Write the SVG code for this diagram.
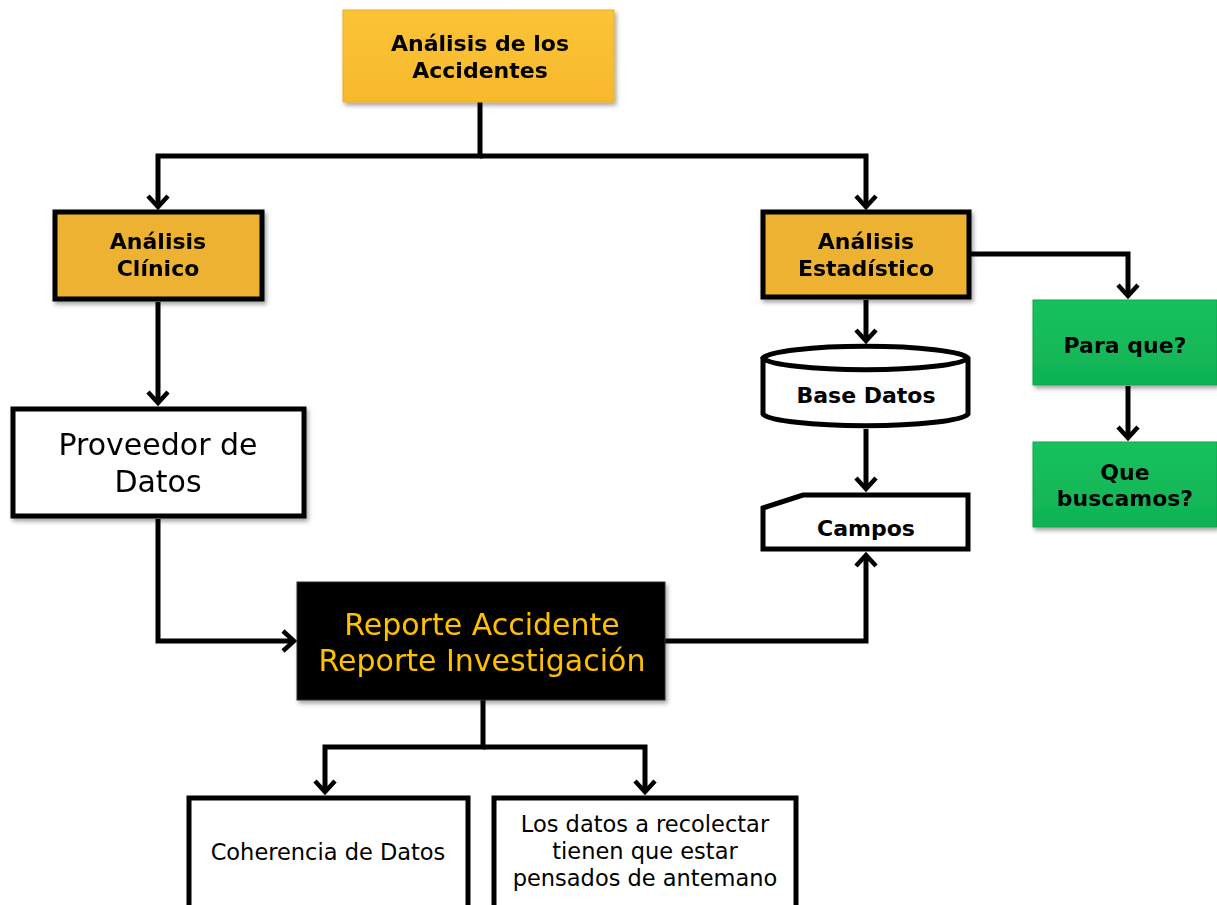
<svg xmlns="http://www.w3.org/2000/svg" width="1217" height="905" viewBox="0 0 1217 905">
<style>
.b{font-family:"DejaVu Sans","Liberation Sans",sans-serif;font-weight:bold;font-size:22px;fill:#000;text-anchor:middle}
.n{font-family:"DejaVu Sans","Liberation Sans",sans-serif;font-size:22.5px;fill:#000;text-anchor:middle}
.L{font-size:30px}
.c{fill:none;stroke:#000;stroke-width:5;stroke-linejoin:miter}
.box{stroke:#000;stroke-width:5}
</style>
<defs>
<linearGradient id="gy" x1="0" y1="0" x2="0" y2="1"><stop offset="0" stop-color="#FCC437"/><stop offset="1" stop-color="#F7B82C"/></linearGradient>
<linearGradient id="gg" x1="0" y1="0" x2="0" y2="1"><stop offset="0" stop-color="#17C15E"/><stop offset="1" stop-color="#10B254"/></linearGradient>
<filter id="sh" x="-10%" y="-10%" width="130%" height="130%"><feDropShadow dx="2" dy="3" stdDeviation="2" flood-color="#000" flood-opacity="0.35"/></filter>
<marker id="ah" viewBox="0 0 24 24" refX="20" refY="12" markerWidth="24" markerHeight="24" markerUnits="userSpaceOnUse" orient="auto" overflow="visible">
<path d="M9,2 L20,12 L9,22" fill="none" stroke="#000" stroke-width="4.5" stroke-linejoin="miter"/>
</marker>
</defs>
<g id="connectors">
<path class="c" d="M480,102 V156 H158 V207" marker-end="url(#ah)"/>
<path class="c" d="M480,156 H866 V207" marker-end="url(#ah)"/>
<path class="c" d="M970,254 H1128 V296" marker-end="url(#ah)"/>
<path class="c" d="M1128,386 V438" marker-end="url(#ah)"/>
<path class="c" d="M866,300 V341" marker-end="url(#ah)"/>
<path class="c" d="M866,429 V489" marker-end="url(#ah)"/>
<path class="c" d="M158,302 V403" marker-end="url(#ah)"/>
<path class="c" d="M158,519 V641 H294" marker-end="url(#ah)"/>
<path class="c" d="M665,641 H866 V555" marker-end="url(#ah)"/>
<path class="c" d="M483,700 V747 H325 V792" marker-end="url(#ah)"/>
<path class="c" d="M483,747 H645 V792" marker-end="url(#ah)"/>
</g>
<g id="n-analisis-accidentes" filter="url(#sh)">
<rect x="343" y="10" width="271" height="92" fill="url(#gy)" stroke="#E8AE25" stroke-width="1"/>
<text class="b" x="480" y="51">Análisis de los</text>
<text class="b" x="480" y="78">Accidentes</text>
</g>
<g id="n-analisis-clinico" filter="url(#sh)">
<rect class="box" x="55" y="212" width="207" height="87" fill="#EDB230"/>
<text class="b" x="158" y="249">Análisis</text>
<text class="b" x="158" y="276">Clínico</text>
</g>
<g id="n-analisis-estadistico" filter="url(#sh)">
<rect class="box" x="763" y="212" width="206" height="85" fill="#EDB230"/>
<text class="b" x="866" y="249">Análisis</text>
<text class="b" x="866" y="276">Estadístico</text>
</g>
<g id="n-para-que" filter="url(#sh)">
<rect x="1033" y="300" width="184" height="85" fill="url(#gg)" stroke="#0FA24C" stroke-width="1"/>
<text class="b" x="1125" y="353">Para que?</text>
</g>
<g id="n-que-buscamos" filter="url(#sh)">
<rect x="1033" y="442" width="184" height="85" fill="url(#gg)" stroke="#0FA24C" stroke-width="1"/>
<text class="b" x="1125" y="480">Que</text>
<text class="b" x="1125" y="506">buscamos?</text>
</g>
<g id="n-base-datos">
<path class="box" d="M763,358 V414 A103,13 0 0 0 968,414 V358 A103,13 0 0 0 763,358 A103,13 0 0 0 968,358" fill="#fff"/>
<text class="b" x="866" y="403">Base Datos</text>
</g>
<g id="n-campos">
<path class="box" d="M763,508 L803,495 H968 V549 H763 Z" fill="#fff"/>
<text class="b" x="866" y="536">Campos</text>
</g>
<g id="n-proveedor" filter="url(#sh)">
<rect class="box" x="13" y="409" width="291" height="107" fill="#fff"/>
<text class="n L" x="158" y="455">Proveedor de</text>
<text class="n L" x="158" y="492">Datos</text>
</g>
<g id="n-reporte" filter="url(#sh)">
<rect x="297" y="582" width="368" height="118" fill="#000" stroke="#333" stroke-width="1"/>
<text class="n L" x="482" y="635" style="fill:#FFC000">Reporte Accidente</text>
<text class="n L" x="482" y="671" style="fill:#FFC000">Reporte Investigación</text>
</g>
<g id="n-coherencia">
<rect class="box" x="189" y="798" width="279" height="112" fill="#fff"/>
<text class="n" x="328" y="860">Coherencia de Datos</text>
</g>
<g id="n-los-datos">
<rect class="box" x="494" y="798" width="302" height="112" fill="#fff"/>
<text class="n" x="645" y="832">Los datos a recolectar</text>
<text class="n" x="645" y="859">tienen que estar</text>
<text class="n" x="645" y="886">pensados de antemano</text>
</g>
</svg>
